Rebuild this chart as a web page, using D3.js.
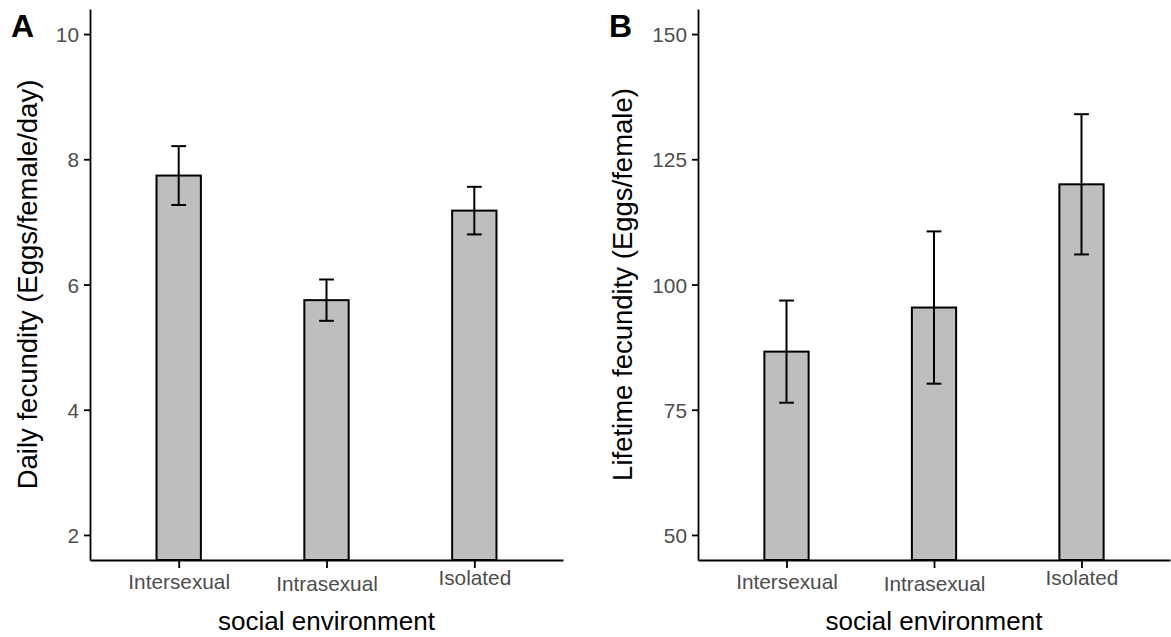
<!DOCTYPE html>
<html lang="en">
<head>
<meta charset="utf-8">
<title>Fecundity by social environment</title>
<script src="https://d3js.org/d3.v7.min.js"></script>
<style>
    body { margin: 0; background: #fff; }
    svg { display: block; font-family: "Liberation Sans", Arial, sans-serif; }
    .axis path, .axis line { stroke: #000; stroke-width: 1.8; }
    .axis text { fill: #4d4d4d; font-size: 20.8px; }
    .bar { fill: #bebebe; stroke: #000; stroke-width: 2; }
    .err { stroke: #000; stroke-width: 2; fill: none; }
    .title { font-size: 26px; fill: #000; }
    .ytitle { font-size: 27.5px; fill: #000; }
    .tag { font-size: 32px; font-weight: bold; fill: #000; }
</style>
</head>
<body>
<div id="chart"></div>
<script>
    // data
    var categories = ["Intersexual", "Intrasexual", "Isolated"];
    var dailyMean = [7.74, 5.75, 7.18];
    var dailySe = [0.47, 0.33, 0.38];
    var lifetimeMean = [86.6, 95.4, 120.0];
    var lifetimeSe = [10.2, 15.2, 14.0];
    var dailyTicks = [2, 4, 6, 8, 10];
    var lifetimeTicks = [50, 75, 100, 125, 150];

    var W = 1171, H = 637;
    var plotTop = 9, plotBottom = 560;
    // small vertical shifts of the category labels as seen in the figure
    var labelShift = [0, 2, -4];

    var svg = d3.select("#chart").append("svg")
        .attr("width", W)
        .attr("height", H);

    function panel(opts) {
        var g = svg.append("g");
        var x = d3.scalePoint()
            .domain(categories)
            .range([opts.left, opts.right])
            .padding(0.6);
        var y = d3.scaleLinear()
            .domain(opts.domain)
            .range([plotBottom, plotTop]);
        var step = x.step();
        var rows = categories.map(function(c, i) {
            return {cat: c, mean: opts.mean[i], se: opts.se[i]};
        });

        g.selectAll(".bar")
            .data(rows)
            .enter()
            .append("rect")
                .attr("class", "bar")
                .attr("x", function(d) { return x(d.cat) - step * 0.15 })
                .attr("width", step * 0.3)
                .attr("y", function(d) { return y(d.mean) })
                .attr("height", function(d) { return plotBottom - y(d.mean) });

        var eb = g.selectAll(".errg")
            .data(rows)
            .enter()
            .append("g")
                .attr("class", "errg");
        eb.append("line")
            .attr("class", "err")
            .attr("x1", function(d) { return x(d.cat) })
            .attr("x2", function(d) { return x(d.cat) })
            .attr("y1", function(d) { return y(d.mean + d.se) })
            .attr("y2", function(d) { return y(d.mean - d.se) });
        [1, -1].forEach(function(s) {
            eb.append("line")
                .attr("class", "err")
                .attr("x1", function(d) { return x(d.cat) - step * 0.05 })
                .attr("x2", function(d) { return x(d.cat) + step * 0.05 })
                .attr("y1", function(d) { return y(d.mean + s * d.se) })
                .attr("y2", function(d) { return y(d.mean + s * d.se) });
        });

        var ya = g.append("g")
            .attr("class", "axis")
            .attr("transform", "translate(" + opts.left + ",0)")
            .call(d3.axisLeft(y).tickValues(opts.ticks).tickSize(6).tickSizeOuter(0).tickPadding(5));
        ya.selectAll("text").attr("dy", "0.36em");

        var xa = g.append("g")
            .attr("class", "axis")
            .attr("transform", "translate(0," + plotBottom + ")")
            .call(d3.axisBottom(x).tickSize(8).tickSizeOuter(0).tickPadding(6));
        xa.selectAll(".tick text")
            .attr("dy", function(d, i) { return (0.71 * 20.8 + labelShift[i]) + "px" });

        g.append("text")
            .attr("class", "title")
            .attr("x", (opts.left + opts.right) / 2)
            .attr("y", 630)
            .attr("text-anchor", "middle")
            .text("social environment");

        g.append("text")
            .attr("class", "ytitle")
            .attr("transform", "translate(" + opts.ytitleX + "," + (plotTop + plotBottom) / 2 + ") rotate(-90)")
            .attr("text-anchor", "middle")
            .text(opts.ytitle);

        g.append("text")
            .attr("class", "tag")
            .attr("x", opts.tagX)
            .attr("y", 37)
            .text(opts.tag);
    }

    panel({
        left: 90, right: 563,
        domain: [1.6, 10.4],
        ticks: dailyTicks,
        mean: dailyMean, se: dailySe,
        ytitle: "Daily fecundity (Eggs/female/day)",
        ytitleX: 37,
        tag: "A", tagX: 11
    });

    panel({
        left: 698, right: 1170,
        domain: [45, 155],
        ticks: lifetimeTicks,
        mean: lifetimeMean, se: lifetimeSe,
        ytitle: "Lifetime fecundity (Eggs/female)",
        ytitleX: 632,
        tag: "B", tagX: 609
    });
</script>
</body>
</html>
